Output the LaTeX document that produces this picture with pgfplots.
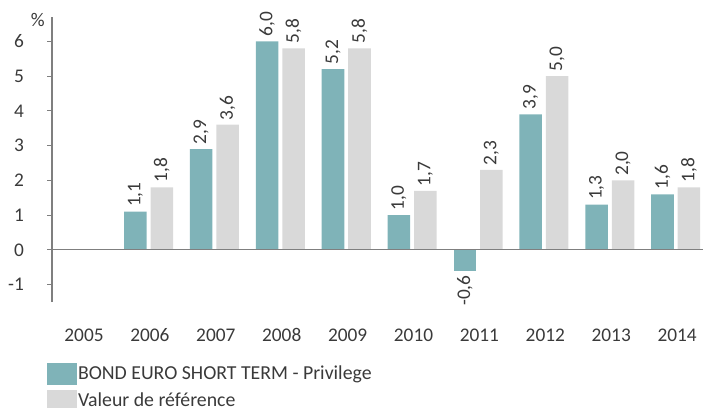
\documentclass[border=0pt]{standalone}
\usepackage{fontspec}
\setmainfont{Carlito}
\usepackage{pgfplots}
\pgfplotsset{compat=1.18}
\definecolor{teal1}{HTML}{7FB3B8}
\definecolor{grey1}{HTML}{D9D9D9}
\definecolor{txt}{HTML}{3A3A3A}
\definecolor{axisc}{HTML}{7F7F7F}
\begin{document}
\begin{tikzpicture}[font=\fontsize{14.5pt}{17pt}\selectfont]
\useasboundingbox (0,0) rectangle (527.25pt,305.25pt);
\begin{axis}[
  at={(39pt,78.75pt)}, anchor=south west,
  scale only axis, width=488.25pt, height=213.75pt,
  xmin=-0.486, xmax=9.393, ymin=-1.5, ymax=6.7,
  axis y line*=left, axis x line*=bottom,
  x axis line style={draw=none},
  y axis line style={draw=axisc, -, line width=0.9pt},
  xtick={0,1,2,3,4,5,6,7,8,9},
  xticklabels={2005,2006,2007,2008,2009,2010,2011,2012,2013,2014},
  ytick={-1,0,1,2,3,4,5,6},
  tick align=outside, major tick length=3.5pt,
  xtick style={draw=none},
  ytick style={draw=axisc, line width=0.7pt},
  yticklabel style={xshift=-14pt, text=txt},
  xticklabel style={yshift=-13pt, text=txt},
  /pgf/number format/assume math mode=true,
  ybar, bar width=0.342,
  nodes near coords={\pgfmathprintnumber[fixed,fixed zerofill,precision=1,use comma,assume math mode=true]{\pgfplotspointmeta}},
  legend style={draw=none, fill=none, at={(-0.0077,-0.214)}, anchor=north west,
    inner sep=0pt, outer sep=0pt, row sep=3.5pt,
    nodes={inner sep=0pt, text=txt, font=\fontsize{14.85pt}{17pt}\selectfont},
    cells={anchor=west},
    /tikz/every odd column/.append style={column sep=0.8pt}},
  legend image code/.code={\fill[#1,draw=none] (0pt,-8.25pt) rectangle (22.5pt,8.25pt);},
]
\addplot[fill=teal1, draw=none, bar shift=-0.222,
  every node near coord/.append style={rotate=90, anchor=west, text=txt}]
  coordinates {(1,1.1)(2,2.9)(3,6.0)(4,5.2)(5,1.0)(7,3.9)(8,1.3)(9,1.6)};
\addplot[fill=grey1, draw=none, bar shift=0.18,
  every node near coord/.append style={rotate=90, anchor=west, text=txt}]
  coordinates {(1,1.8)(2,3.6)(3,5.8)(4,5.8)(5,1.7)(6,2.3)(7,5.0)(8,2.0)(9,1.8)};
\addplot[fill=teal1, draw=none, bar shift=-0.222, forget plot,
  every node near coord/.append style={rotate=90, anchor=east, text=txt}]
  coordinates {(6,-0.6)};
\draw[axisc, line width=0.9pt] (axis cs:-0.486,0) -- (axis cs:9.393,0);
\legend{BOND EURO SHORT TERM - Privilege, Valeur de référence}
\end{axis}
\node[text=txt] at (28.3pt,290.25pt) {\%};
\end{tikzpicture}
\end{document}
